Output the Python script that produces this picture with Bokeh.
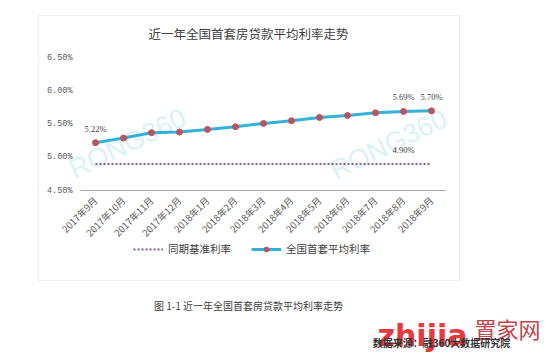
from math import pi
import numpy as np
from bokeh.plotting import figure
from bokeh.models import (Range1d, ColumnDataSource, LabelSet, Label, BoxAnnotation,
                          Legend, LegendItem, PrintfTickFormatter, FixedTicker, PolyAnnotation)
from bokeh.embed import file_html
from bokeh.resources import INLINE

# ---- data ----
months = ["2017年9月", "2017年10月", "2017年11月", "2017年12月", "2018年1月", "2018年2月",
          "2018年3月", "2018年4月", "2018年5月", "2018年6月", "2018年7月", "2018年8月", "2018年9月"]
avg_rate = [5.22, 5.29, 5.37, 5.38, 5.42, 5.46, 5.51, 5.55, 5.60, 5.63, 5.67, 5.69, 5.70]
base_rate = [4.90, 4.90, 4.90, 4.90, 4.90, 4.90, 4.90, 4.90, 4.90, 4.90, 4.90, 4.90, 4.90]
y_ticks = [4.5, 5.0, 5.5, 6.0, 6.5]
avg_label_idx = [0, 11, 12]
base_label_idx = [11]
series_names = ["同期基准利率", "全国首套平均利率"]
title_text = "近一年全国首套房贷款平均利率走势"
caption_text = "图 1-1 近一年全国首套房贷款平均利率走势"
watermark = "RONG360"

xi = list(range(len(months)))

# ---- layout geometry (page px; the canvas sits at the page origin) ----
X0, DX = 95.0, 28.0          # page x of first month, spacing
Y45, PER = 190.0, 66.4       # page y of 4.50%, px per 1%
PAGE_L, PAGE_R, PAGE_T, PAGE_B = 0, 548, 0, 355

def ix(X):
    return (X - X0) / DX

def vy(Y):
    return 4.5 + (Y45 - Y) / PER

p = figure(width=PAGE_R - PAGE_L, height=PAGE_B - PAGE_T,
           x_range=Range1d(ix(PAGE_L), ix(PAGE_R)), y_range=Range1d(vy(PAGE_B), vy(PAGE_T)),
           title=None, output_backend="svg", toolbar_location=None, min_border=0)
p.outline_line_color = None
p.grid.visible = False
p.background_fill_color = "white"
p.border_fill_color = "white"

# page-pixel helper ranges for decorations
p.extra_x_ranges = {"px": Range1d(PAGE_L, PAGE_R)}
p.extra_y_ranges = {"py": Range1d(PAGE_B, PAGE_T)}

def page_label(x, y, text, baseline="middle", **kw):
    lab = Label(x=x, y=y, text=text, x_range_name="px", y_range_name="py",
                text_align="center", text_baseline=baseline, **kw)
    p.add_layout(lab)
    return lab

# chart box
p.add_layout(BoxAnnotation(left=38, right=459, top=15, bottom=280,
                           x_range_name="px", y_range_name="py",
                           fill_alpha=0, line_color="#c3c3c3", line_width=1))

# watermarks
for cx, cy in [(127, 143), (388, 144)]:
    page_label(cx, cy, watermark, angle=0.45, text_font="Liberation Sans",
               text_font_size="27px", text_color="#dcf0f8", level="underlay")

# title
page_label(248, 33, title_text, text_font="Noto Sans CJK SC",
           text_font_size="12.5px", text_color="#404040")

# axes (fixed inside the canvas)
p.yaxis.fixed_location = ix(80)
p.yaxis.ticker = FixedTicker(ticks=y_ticks)
p.yaxis.formatter = PrintfTickFormatter(format="%.2f%%")
p.yaxis.axis_line_color = None
p.yaxis.major_tick_line_color = None
p.yaxis.minor_tick_line_color = None
p.yaxis.major_tick_out = 0
p.yaxis.major_label_standoff = 8
p.yaxis.major_label_text_font = "Liberation Mono"
p.yaxis.major_label_text_font_size = "8.5px"
p.yaxis.major_label_text_color = "#595959"

p.xaxis.fixed_location = 4.5
p.xaxis.bounds = (ix(80), ix(445))
p.xaxis.ticker = FixedTicker(ticks=xi)
p.xaxis.major_label_overrides = {i: m for i, m in zip(xi, months)}
p.xaxis.axis_line_color = "#a6a6a6"
p.xaxis.major_tick_line_color = None
p.xaxis.minor_tick_line_color = None
p.xaxis.major_tick_out = 0
p.xaxis.major_label_orientation = pi / 4
p.xaxis.major_label_standoff = 8
p.xaxis.major_label_text_font = "Noto Sans CJK SC"
p.xaxis.major_label_text_font_size = "9.5px"
p.xaxis.major_label_text_color = "#595959"

# series
base_r = p.line(xi, base_rate, line_color="#7a5aa6", line_width=2, line_dash="2 2")
avg_r = p.line(xi, avg_rate, line_color="#31b2d8", line_width=3)
pts_r = p.scatter(xi, avg_rate, size=6, fill_color="#b9535f", line_color="#b9535f")

# data labels
avg_src = ColumnDataSource(dict(x=[xi[i] for i in avg_label_idx],
                                y=[avg_rate[i] for i in avg_label_idx],
                                t=["%.2f%%" % avg_rate[i] for i in avg_label_idx]))
base_src = ColumnDataSource(dict(x=[xi[i] for i in base_label_idx],
                                 y=[base_rate[i] for i in base_label_idx],
                                 t=["%.2f%%" % base_rate[i] for i in base_label_idx]))
for src in (avg_src, base_src):
    p.add_layout(LabelSet(x="x", y="y", text="t", source=src, text_align="center",
                          text_baseline="middle", y_offset=14, text_font="Liberation Mono",
                          text_font_size="8.5px", text_color="#404040"))

# legend
legend = Legend(items=[LegendItem(label=series_names[0], renderers=[base_r]),
                       LegendItem(label=series_names[1], renderers=[avg_r, pts_r])],
                orientation="horizontal", location=(133 - PAGE_L, PAGE_B - 256),
                border_line_color=None, background_fill_alpha=0, padding=0, margin=0,
                spacing=20, glyph_width=30, glyph_height=12, label_height=12,
                label_standoff=5, label_text_font="Noto Sans CJK SC",
                label_text_font_size="10.5px", label_text_color="#404040")
p.add_layout(legend)

# caption
page_label(248, 305, caption_text, text_font="Noto Sans CJK SC",
           text_font_size="10px", text_color="#404040")

# site logo watermark
t = np.linspace(0, 1, 30)
ox = 398 + 68 * t
oy = 322 - 22 * np.sin(pi * t) - 6 * t
iy = oy + 7 * np.sin(pi * t) + 1
p.add_layout(PolyAnnotation(xs=list(ox) + list(ox[::-1]), ys=list(oy) + list(iy[::-1]),
                            x_range_name="px", y_range_name="py",
                            fill_color="#f2a516", fill_alpha=1, line_color=None))
page_label(422, 335, "zhijia", baseline="alphabetic", text_font="DejaVu Sans",
           text_font_style="bold", text_font_size="30px", text_color="#e63a3e")
page_label(507, 327, "置家网", text_font="Noto Sans CJK SC", text_font_size="22px",
           text_color="#c0474d")
page_label(441, 342, "数据来源：融360大数据研究院", text_font="Noto Sans CJK SC",
           text_font_style="bold", text_font_size="10px", text_color="#333333")

open("out.html", "w").write(file_html(p, INLINE))
